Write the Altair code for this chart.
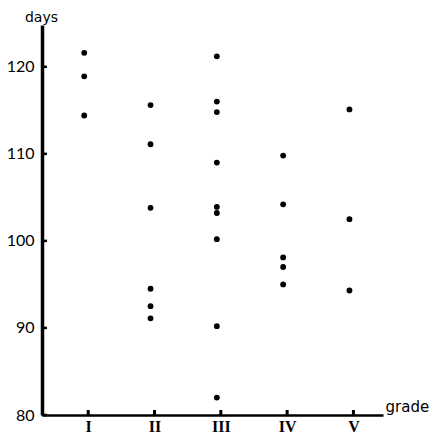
import altair as alt
import pandas as pd

# ---- data ----
grades = ["I", "II", "III", "IV", "V"]
grade_I = [121.6, 118.9, 114.4]
grade_II = [115.6, 111.1, 103.8, 94.5, 92.5, 91.1]
grade_III = [121.2, 116.0, 114.8, 109.0, 103.9, 103.2, 100.2, 90.2, 82.0]
grade_IV = [109.8, 104.2, 98.1, 97.0, 95.0]
grade_V = [115.1, 102.5, 94.3]
y_tick_values = [80, 90, 100, 110, 120]

series = [grade_I, grade_II, grade_III, grade_IV, grade_V]
rows = [
    {"grade": g, "pos": i + 1, "days": d}
    for i, (g, vals) in enumerate(zip(grades, series))
    for d in vals
]
df = pd.DataFrame(rows)
cat_df = pd.DataFrame({"grade": grades, "pos": list(range(1, len(grades) + 1))})
ytick_df = pd.DataFrame({"days": y_tick_values})

label_expr = "[" + ",".join(["''"] + [f"'{g}'" for g in grades]) + "][datum.value]"

xscale = alt.Scale(domain=[0.303, 5.446], nice=False, zero=False)
yscale = alt.Scale(domain=[80, 124.8], nice=False, zero=False)

xaxis = alt.Axis(
    values=list(range(1, len(grades) + 1)),
    labelExpr=label_expr,
    ticks=False,
    tickSize=0,
    grid=False,
    domainColor="black",
    domainWidth=2.5,
    labelFont="Liberation Serif",
    labelFontWeight="bold",
    labelFontSize=16,
    labelColor="black",
    labelBaseline="alphabetic",
    labelPadding=16,
    labelFlush=False,
    title="grade",
    titleFont="DejaVu Sans",
    titleFontSize=15,
    titleFontWeight="normal",
    titleColor="black",
    titleAngle=0,
    titleAlign="left",
    titleBaseline="alphabetic",
    titleX=343,
    titleY=-4,
)

yaxis = alt.Axis(
    values=y_tick_values,
    ticks=False,
    tickSize=0,
    grid=False,
    domainColor="black",
    domainWidth=3.5,
    labelFont="Lato",
    labelFontSize=16,
    labelColor="black",
    labelPadding=8,
    labelFlush=False,
    title="days",
    titleFont="DejaVu Sans",
    titleFontSize=14,
    titleFontWeight="normal",
    titleColor="black",
    titleAngle=0,
    titleAlign="center",
    titleBaseline="alphabetic",
    titleX=-1,
    titleY=-4,
)

points = (
    alt.Chart(df)
    .transform_calculate(pos="datum.pos - 0.06")
    .mark_circle(size=34, color="black", opacity=1)
    .encode(
        x=alt.X("pos:Q", scale=xscale, axis=xaxis),
        y=alt.Y("days:Q", scale=yscale, axis=yaxis),
    )
)

xticks = (
    alt.Chart(cat_df)
    .mark_rule(color="black", strokeWidth=3)
    .encode(
        x=alt.X("pos:Q", scale=xscale, axis=xaxis),
        y=alt.value(390),
        y2=alt.value(385),
    )
)

yticks = (
    alt.Chart(ytick_df)
    .mark_rule(color="black", strokeWidth=2.5)
    .encode(
        y=alt.Y("days:Q", scale=yscale, axis=yaxis),
        x=alt.value(0),
        x2=alt.value(5),
    )
)

chart = (
    alt.layer(points, xticks, yticks)
    .properties(
        width=341,
        height=390,
        autosize=alt.AutoSizeParams(type="none"),
        padding={"left": 34, "top": 17, "right": 49, "bottom": 18},
        background="white",
    )
    .configure_view(stroke=None)
)

chart.save("out.html", embed_options={"renderer": "svg", "actions": False})
